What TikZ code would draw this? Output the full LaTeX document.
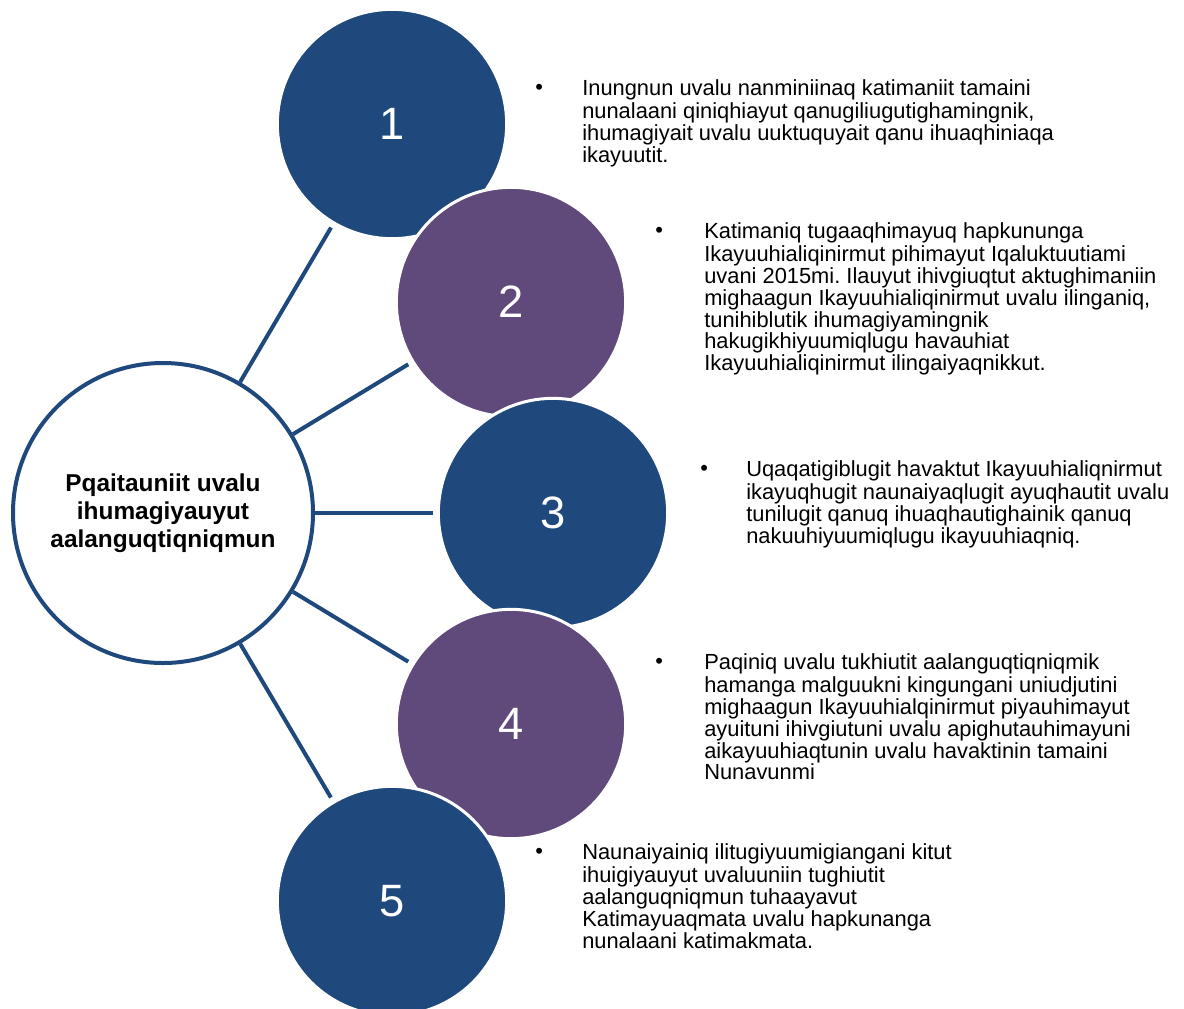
\documentclass[tikz,border=0pt]{standalone}
\usepackage{fontspec}
\setmainfont{Liberation Sans}
\frenchspacing
\definecolor{navy}{HTML}{1F497D}
\definecolor{plum}{HTML}{604A7B}
\begin{document}
\begin{tikzpicture}[x=0.75pt, y=-0.75pt,
    hub/.style={circle, draw=navy, line width=3pt, fill=white, minimum size=225pt, inner sep=0pt,
        align=center, font=\fontsize{18.3}{21}\selectfont\bfseries},
    ball/.style={circle, draw=white, line width=2.25pt, minimum size=172pt, inner sep=0pt,
        text=white, font=\fontsize{34}{40}\selectfont},
    spoke/.style={navy, line width=3pt, shorten >=3pt},
    bul/.style={anchor=north west, inner sep=0pt, font=\fontsize{16.4}{16.3}\selectfont},
    txt/.style={anchor=north west, inner sep=0pt, align=left, font=\fontsize{16.4}{16.3}\selectfont}]
        \clip (0,0) rectangle (1184,1008);

        % centre and the five balls
        \node[hub] (c) at (163,513) {Pqaitauniit uvalu\\ihumagiyauyut\\aalanguqtiqniqmun};
        \node[ball, fill=navy] (n1) at (392,124) {1};
        \node[ball, fill=plum] (n2) at (511,302) {2};
        \node[ball, fill=navy] (n3) at (553,513) {3};
        \node[ball, fill=plum] (n4) at (511,724) {4};
        \node[ball, fill=navy] (n5) at (392,901) {5};

        \draw[spoke] (c) -- (n1);
        \draw[spoke] (c) -- (n2);
        \draw[spoke] (c) -- (n3);
        \draw[spoke] (c) -- (n4);
        \draw[spoke] (c) -- (n5);

        % bullet texts
        \node[bul] (b1) at (535,79) {\strut\textbullet};
        \node[txt] (t1) at (582,79) {\strut Inungnun uvalu nanminiinaq katimaniit tamaini\\nunalaani qiniqhiayut qanugiliugutighamingnik,\\ihumagiyait uvalu uuktuquyait qanu ihuaqhiniaqa\\ikayuutit.};
        \node[bul] (b2) at (655,222) {\strut\textbullet};
        \node[txt] (t2) at (704,222) {\strut Katimaniq tugaaqhimayuq hapkununga\\Ikayuuhialiqinirmut pihimayut Iqaluktuutiami\\uvani 2015mi. Ilauyut ihivgiuqtut aktughimaniin\\mighaagun Ikayuuhialiqinirmut uvalu ilinganiq,\\tunihiblutik ihumagiyamingnik\\hakugikhiyuumiqlugu havauhiat\\Ikayuuhialiqinirmut ilingaiyaqnikkut.};
        \node[bul] (b3) at (700,460) {\strut\textbullet};
        \node[txt] (t3) at (746,460) {\strut Uqaqatigiblugit havaktut Ikayuuhialiqnirmut\\ikayuqhugit naunaiyaqlugit ayuqhautit uvalu\\tunilugit qanuq ihuaqhautighainik qanuq\\nakuuhiyuumiqlugu ikayuuhiaqniq.};
        \node[bul] (b4) at (655,653) {\strut\textbullet};
        \node[txt] (t4) at (704,653) {\strut Paqiniq uvalu tukhiutit aalanguqtiqniqmik\\hamanga malguukni kingungani uniudjutini\\mighaagun Ikayuuhialqinirmut piyauhimayut\\ayuituni ihivgiutuni uvalu apighutauhimayuni\\aikayuuhiaqtunin uvalu havaktinin tamaini\\Nunavunmi};
        \node[bul] (b5) at (535,843) {\strut\textbullet};
        \node[txt] (t5) at (582,843) {\strut Naunaiyainiq ilitugiyuumigiangani kitut\\ihuigiyauyut uvaluuniin tughiutit\\aalanguqniqmun tuhaayavut\\Katimayuaqmata uvalu hapkunanga\\nunalaani katimakmata.};
    \end{tikzpicture}
\end{document}
